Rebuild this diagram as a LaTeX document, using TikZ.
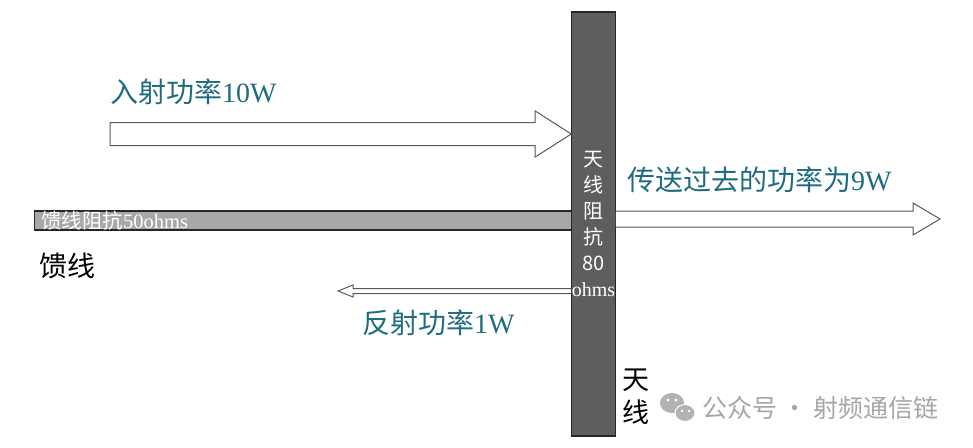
\documentclass[tikz,border=0pt]{standalone}
\usepackage{fontspec}
\setmainfont{Liberation Serif}
\newfontfamily\cjk{Noto Sans CJK SC}
\usepackage{xcolor}
\usepackage{tikz}
\usetikzlibrary{calc}
\definecolor{powtext}{HTML}{1F6B80}
\definecolor{antgray}{HTML}{5E5E5E}
\definecolor{feedgray}{HTML}{A8A8A8}

\begin{document}
\begin{tikzpicture}[
    x=1pt, y=-1pt,
    bar/.style={rectangle, draw=black!85, line width=1.2pt, inner sep=0pt},
    hollow/.style={draw=black!65, fill=white, line width=1pt, line join=miter},
    powlabel/.style={anchor=west, inner sep=0pt, text=powtext, font=\fontsize{28}{30}\selectfont},
    partlabel/.style={inner sep=0pt, text=black, align=center, font=\cjk\fontsize{28}{33}\selectfont},
    wmark/.style={anchor=west, inner sep=0pt, text=black!35, font=\cjk\fontsize{25}{25}\selectfont}
]
\useasboundingbox (0,0) rectangle (973,447);

% feed line and antenna
\node[bar, fill=feedgray, minimum width=539pt, minimum height=19pt, anchor=west] (feed) at (34,220.5) {};
\node[anchor=west, inner sep=0pt, text=white, font=\fontsize{20.5}{20}\selectfont] (feedtxt) at ([xshift=7pt]feed.west) {{\cjk 馈线阻抗}50ohms};
\node[bar, fill=antgray, minimum width=41pt, minimum height=424pt, text=white, align=center,
      font=\cjk\fontsize{20}{26}\selectfont] (ant) at (593.5,224) {天\\线\\阻\\抗\\80\\{\rmfamily ohms}};

\node[partlabel] (feedname) at (67,266) {馈线};
\node[partlabel, font=\cjk\fontsize{27}{33}\selectfont] (antname) at (636,396.5) {天\\线};

% free ends of the power arrows
\coordinate (inc) at (110,134);
\coordinate (inctip) at (inc -| ant.west);
\coordinate (trans) at (940,219);
\coordinate (transtail) at (trans -| ant.east);
\coordinate (refl) at (338,291);
\coordinate (refltail) at (refl -| ant.west);

% incident power
\draw[hollow] ([yshift=11.5pt]inc) -- ([xshift=-36pt,yshift=11.5pt]inctip) -- ([xshift=-36pt,yshift=23pt]inctip)
    -- (inctip) -- ([xshift=-36pt,yshift=-23pt]inctip) -- ([xshift=-36pt,yshift=-11.5pt]inctip) -- ([yshift=-11.5pt]inc) -- cycle;
\node[powlabel] (inclabel) at (110,92) {{\cjk 入射功率}10W};

% transmitted power
\draw[hollow] ([yshift=8pt]transtail) -- ([xshift=-27pt,yshift=8pt]trans) -- ([xshift=-27pt,yshift=16pt]trans)
    -- (trans) -- ([xshift=-27pt,yshift=-16pt]trans) -- ([xshift=-27pt,yshift=-8pt]trans) -- ([yshift=-8pt]transtail);
\node[powlabel] (translabel) at (627,180) {{\cjk 传送过去的功率为}9W};

% reflected power
\draw[hollow] ([yshift=2.5pt]refltail) -- ([xshift=15pt,yshift=2.5pt]refl) -- ([xshift=15pt,yshift=6pt]refl)
    -- (refl) -- ([xshift=15pt,yshift=-6pt]refl) -- ([xshift=15pt,yshift=-2.5pt]refl) -- ([yshift=-2.5pt]refltail);
\node[powlabel] (refllabel) at (362,323) {{\cjk 反射功率}1W};

% watermark
\fill[black!30] (672,403) ellipse (12pt and 10pt);
\fill[black!30, draw=white, line width=1pt] (685,413) ellipse (10pt and 8.5pt);
\fill[white] (668,400) circle (1.6pt) (676,400) circle (1.6pt) (682,411) circle (1.3pt) (689,411) circle (1.3pt);
\node[wmark] (wmtext) at (702,408) {公众号 · 射频通信链};
\end{tikzpicture}
\end{document}
